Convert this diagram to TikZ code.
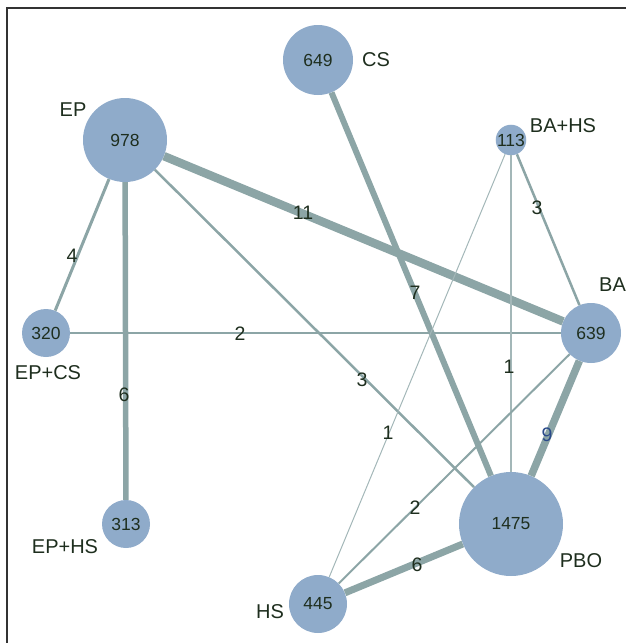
\documentclass[tikz,border=0pt]{standalone}
\usepackage{fontspec}
\setmainfont{Liberation Sans}
\begin{document}
\begin{tikzpicture}[x=1pt,y=-1pt,
  trt/.style={circle,fill=nodefill,draw=none,inner sep=0pt,minimum size=#1,
    font=\fontsize{17.5}{20}\selectfont,text=txt},
  lab/.style={font=\fontsize{20}{23}\selectfont,text=txt,inner sep=0pt},
  elab/.style={font=\fontsize{19.5}{22}\selectfont,text=txt,inner sep=0pt},
  conn/.style={draw=edgecol,line width=#1},
  thin conn/.style={draw=edgecol!80,line width=#1}]
\definecolor{nodefill}{HTML}{8FABCA}
\definecolor{edgecol}{HTML}{8CA5A6}
\definecolor{txt}{HTML}{1E2E1E}
\definecolor{bluetxt}{HTML}{2A4A8A}
\definecolor{framecol}{HTML}{333333}
\useasboundingbox (0,0) rectangle (626,643);
% frame (left and top)
\coordinate (fbl) at (7,643);
\coordinate (ftl) at (7,8);
\coordinate (ftr) at (626,8);
\draw[framecol,line width=1.3] (fbl) -- (ftl) -- (ftr);
% treatment nodes
\node[trt=84] (EP) at (125,140) {978};
\node[trt=70] (CS) at (318,60) {649};
\node[trt=30] (BAHS) at (511,140) {113};
\node[trt=60] (BA) at (591,333) {639};
\node[trt=48] (EPCS) at (46,333) {320};
\node[trt=48] (EPHS) at (126,524) {313};
\node[trt=58] (HS) at (318,604) {445};
\node[trt=104] (PBO) at (511,524) {1475};
% connectors
\draw[conn=8.5] (EP) -- (BA);
\draw[conn=3] (EP) -- (EPCS);
\draw[conn=5.5] (EP) -- (EPHS);
\draw[conn=2.5] (EP) -- (PBO);
\draw[conn=6] (CS) -- (PBO);
\draw[conn=1.6] (EPCS) -- (BA);
\draw[conn=2.5] (BAHS) -- (BA);
\draw[thin conn=1.2] (BAHS) -- (PBO);
\draw[thin conn=1] (BAHS) -- (HS);
\draw[conn=7.5] (BA) -- (PBO);
\draw[conn=2] (BA) -- (HS);
\draw[conn=7] (HS) -- (PBO);
% treatment labels
\node[lab] (lEP) at (73,110) {EP};
\node[lab] (lCS) at (376,60) {CS};
\node[lab] (lBAHS) at (563,126) {BA+HS};
\node[lab,anchor=west] (lBA) at (599,285) {BA};
\node[lab] (lEPCS) at (48,373) {EP+CS};
\node[lab] (lEPHS) at (65,547) {EP+HS};
\node[lab] (lHS) at (270,612) {HS};
\node[lab] (lPBO) at (581,561) {PBO};
% connector labels
\node[elab] (e1) at (303,213) {11};
\node[elab] (e2) at (72,256) {4};
\node[elab] (e3) at (415,293) {7};
\node[elab] (e4) at (537,208) {3};
\node[elab] (e5) at (240,334) {2};
\node[elab] (e6) at (124,395) {6};
\node[elab] (e7) at (362,380) {3};
\node[elab] (e8) at (509,367) {1};
\node[elab] (e9) at (388,433) {1};
\node[elab,text=bluetxt] (e10) at (547,435) {9};
\node[elab] (e11) at (415,508) {2};
\node[elab] (e12) at (417,565) {6};
\end{tikzpicture}
\end{document}
